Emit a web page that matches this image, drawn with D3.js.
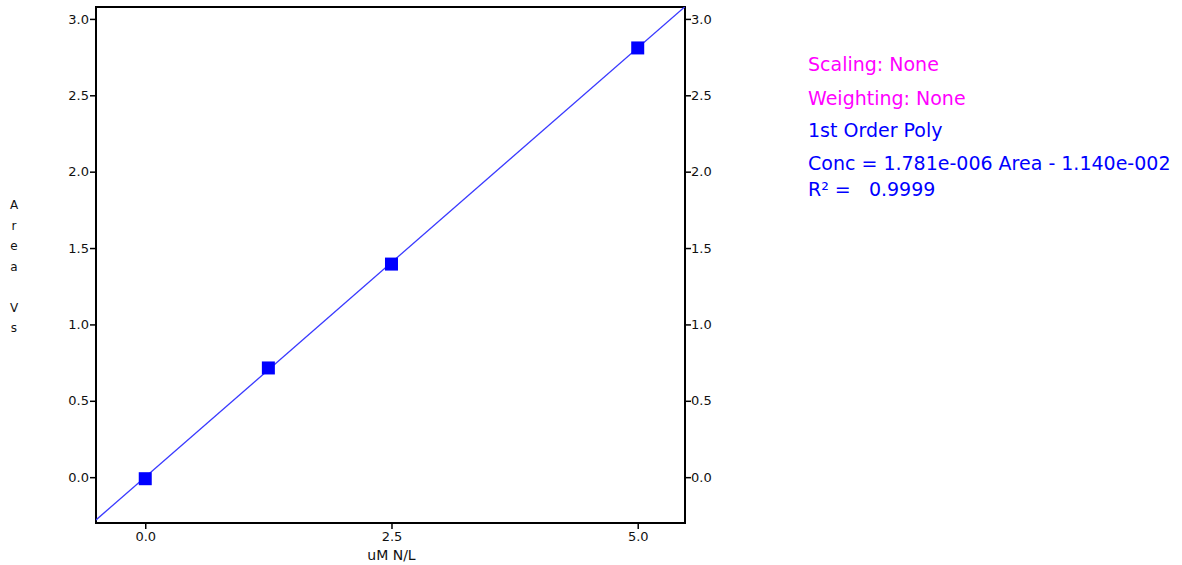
<!DOCTYPE html>
<html>
<head>
<meta charset="utf-8">
<script src="https://cdn.jsdelivr.net/npm/d3@7"></script>
<style>
  body { margin: 0; background: #fff; }
  text { font-family: "DejaVu Sans", Verdana, sans-serif; }
</style>
</head>
<body>
<script>
// calibration standards (uM N/L vs Area Vs)
const concValues = [0.0, 1.25, 2.5, 5.0]
const areaValues = [-0.01, 0.715, 1.395, 2.81]
// fitted line, read at the plot edges
const fitX = [-0.5, 5.48]
const fitY = [-0.28, 3.08]
const xTicks = [0.0, 2.5, 5.0]
const yTicks = [0.0, 0.5, 1.0, 1.5, 2.0, 2.5, 3.0]
const yTitle = ['A', 'r', 'e', 'a', ' ', 'V', 's']
const infoLines = [
  {text: 'Scaling: None', color: '#ff00ff'},
  {text: 'Weighting: None', color: '#ff00ff'},
  {text: '1st Order Poly', color: '#0000ff'},
  {text: 'Conc = 1.781e-006 Area - 1.140e-002', color: '#0000ff'},
  {text: 'R\u00b2 =   0.9999', color: '#0000ff'}
]

const W = 1182, H = 565
const margin = {top: 7, left: 96, right: W - 685, bottom: H - 523}
const width = W - margin.left - margin.right
const height = H - margin.top - margin.bottom

const svg = d3.select('body').append('svg')
  .attr('width', W)
  .attr('height', H)

const g = svg.append('g')
  .attr('transform', `translate(${margin.left},${margin.top})`)

const x = d3.scaleLinear().domain([-0.5, 5.48]).range([0, width])
const y = d3.scaleLinear().domain([-0.3, 3.078]).range([height, 0])

// axes
const fmt = d3.format('.1f')
const axisStyle = sel => {
  sel.select('.domain').remove()
  sel.selectAll('line').attr('stroke', '#000').attr('stroke-width', 1.5)
  sel.selectAll('text').attr('font-size', 13).attr('fill', '#111')
}
g.append('g')
  .call(d3.axisLeft(y).tickValues(yTicks).tickFormat(fmt).tickSize(6).tickPadding(1))
  .call(axisStyle)
g.append('g')
  .attr('transform', `translate(${width},0)`)
  .call(d3.axisRight(y).tickValues(yTicks).tickFormat(fmt).tickSize(6).tickPadding(0))
  .call(axisStyle)
g.append('g')
  .attr('transform', `translate(0,${height})`)
  .call(d3.axisBottom(x).tickValues(xTicks).tickFormat(fmt).tickSize(6).tickPadding(3))
  .call(axisStyle)

// frame
g.append('rect')
  .attr('width', width)
  .attr('height', height)
  .attr('fill', 'none')
  .attr('stroke', '#000')
  .attr('stroke-width', 2)

// fit line
g.append('defs').append('clipPath').attr('id', 'clip')
  .append('rect').attr('width', width).attr('height', height)
g.append('path')
  .datum(fitX.map((d, i) => [d, fitY[i]]))
  .attr('clip-path', 'url(#clip)')
  .attr('fill', 'none')
  .attr('stroke', '#3a3aff')
  .attr('stroke-width', 1.3)
  .attr('d', d3.line().x(d => x(d[0])).y(d => y(d[1])))

// points
const s = 13
g.selectAll('rect.pt')
  .data(concValues.map((d, i) => [d, areaValues[i]]))
  .enter().append('rect')
  .attr('class', 'pt')
  .attr('x', d => x(d[0]) - s / 2)
  .attr('y', d => y(d[1]) - s / 2)
  .attr('width', s)
  .attr('height', s)
  .attr('fill', '#0000ff')

// axis titles
svg.append('text')
  .attr('x', margin.left + x(2.5))
  .attr('y', 560)
  .attr('text-anchor', 'middle')
  .attr('font-size', 14)
  .attr('fill', '#111')
  .text('uM N/L')

svg.selectAll('text.ytitle')
  .data(yTitle)
  .enter().append('text')
  .attr('class', 'ytitle')
  .attr('x', 14)
  .attr('y', (d, i) => 209 + i * 20.5)
  .attr('text-anchor', 'middle')
  .attr('font-size', 12)
  .attr('fill', '#111')
  .text(d => d)

// fit info
svg.selectAll('text.info')
  .data(infoLines)
  .enter().append('text')
  .attr('class', 'info')
  .attr('x', 808)
  .attr('y', (d, i) => [71, 105, 137, 170, 196][i])
  .attr('font-size', 19)
  .attr('fill', d => d.color)
  .style('white-space', 'pre')
  .text(d => d.text)
</script>
</body>
</html>
